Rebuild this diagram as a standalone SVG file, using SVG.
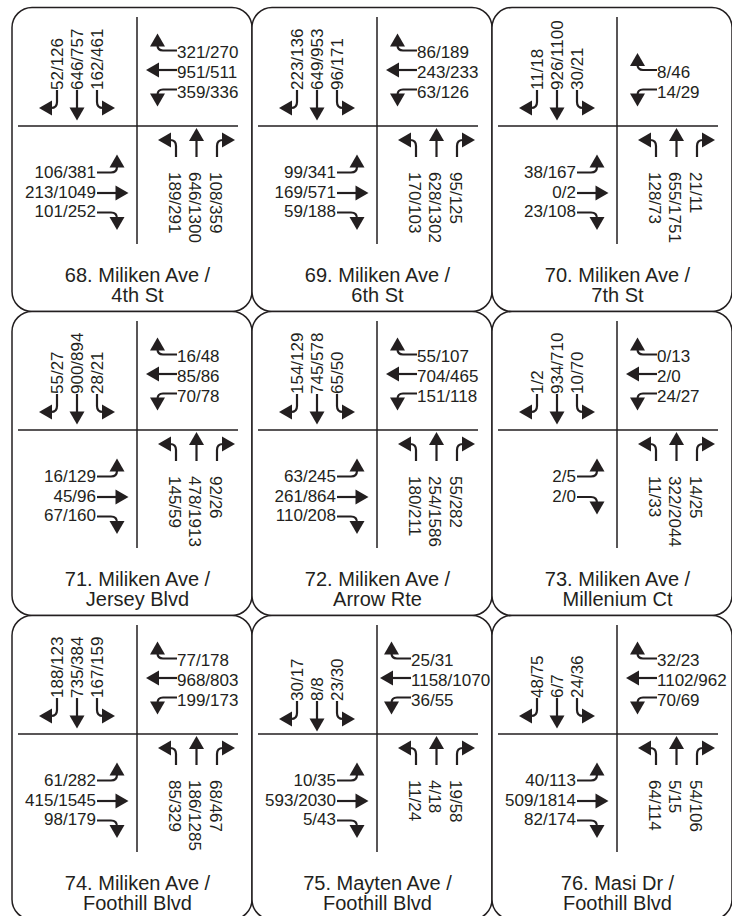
<svg xmlns="http://www.w3.org/2000/svg" width="732" height="916" viewBox="0 0 732 916">
<style>
.n{font-family:"Liberation Sans",Arial,sans-serif;font-size:17px;fill:#231f20}
.e{text-anchor:end}
.t{font-family:"Liberation Sans",Arial,sans-serif;font-size:20px;fill:#231f20;text-anchor:middle}
.box{fill:#fff;stroke:#231f20;stroke-width:1.5}
.ln{fill:none;stroke:#231f20;stroke-width:1.5}
</style>
<defs>
<g id="sbR"><path d="M0,0V12Q0,18 -6,18" fill="none" stroke="#231f20" stroke-width="2.2"/><polygon points="-5,10.5 -5,25.5 -18,18" fill="#231f20"/></g>
<g id="sbS"><path d="M0,0V19" fill="none" stroke="#231f20" stroke-width="2.2"/><polygon points="-7.5,17.5 7.5,17.5 0,30.5" fill="#231f20"/></g>
<g id="sbL"><path d="M0,0V12Q0,18 6,18" fill="none" stroke="#231f20" stroke-width="2.2"/><polygon points="5,10.5 5,25.5 18,18" fill="#231f20"/></g>
<g id="wbU"><path d="M0,0H-14Q-19.5,0 -19.5,-5.5" fill="none" stroke="#231f20" stroke-width="2.2"/><polygon points="-27,-4 -12,-4 -19.5,-17" fill="#231f20"/></g>
<g id="wbS"><path d="M0,0H-19" fill="none" stroke="#231f20" stroke-width="2.2"/><polygon points="-18,-7.5 -18,7.5 -31,0" fill="#231f20"/></g>
<g id="wbD"><path d="M0,0H-14Q-19.5,0 -19.5,5.5" fill="none" stroke="#231f20" stroke-width="2.2"/><polygon points="-27,4 -12,4 -19.5,17" fill="#231f20"/></g>
<g id="ebU"><path d="M0,0H14Q20,0 20,-6" fill="none" stroke="#231f20" stroke-width="2.2"/><polygon points="12.5,-5 27.5,-5 20,-18" fill="#231f20"/></g>
<g id="ebS"><path d="M0,0H20" fill="none" stroke="#231f20" stroke-width="2.2"/><polygon points="18.5,-7.5 18.5,7.5 31.5,0" fill="#231f20"/></g>
<g id="ebD"><path d="M0,0H14Q20,0 20,6" fill="none" stroke="#231f20" stroke-width="2.2"/><polygon points="12.5,4.5 27.5,4.5 20,17.5" fill="#231f20"/></g>
<g id="nbL"><path d="M0,0V-11Q0,-17 -6,-17" fill="none" stroke="#231f20" stroke-width="2.2"/><polygon points="-5,-24.5 -5,-9.5 -18,-17" fill="#231f20"/></g>
<g id="nbS"><path d="M0,0V-17" fill="none" stroke="#231f20" stroke-width="2.2"/><polygon points="-7.5,-16 7.5,-16 0,-29" fill="#231f20"/></g>
<g id="nbR"><path d="M0,0V-11Q0,-17 6,-17" fill="none" stroke="#231f20" stroke-width="2.2"/><polygon points="5,-24.5 5,-9.5 18,-17" fill="#231f20"/></g>
<g id="frame"><rect class="box" width="240" height="304" rx="20"/><path class="ln" d="M125,9.5V236.5M6,118.5H226"/></g>
<g id="sb3"><use href="#sbR" x="45" y="82.5"/><use href="#sbS" x="65" y="82.5"/><use href="#sbL" x="85" y="82.5"/></g>
<g id="nb3"><use href="#nbL" x="164" y="149.5"/><use href="#nbS" x="184.5" y="149.5"/><use href="#nbR" x="205" y="149.5"/></g>
<g id="wb3"><use href="#wbU" x="165" y="43"/><use href="#wbS" x="165" y="62.5"/><use href="#wbD" x="165" y="82"/></g>
<g id="eb3"><use href="#ebU" x="85" y="165"/><use href="#ebS" x="85" y="185.5"/><use href="#ebD" x="85" y="205"/></g>
</defs>

<g id="int68" transform="translate(12,7.5)">
<use href="#frame"/><use href="#sb3"/><use href="#nb3"/><use href="#wb3"/><use href="#eb3"/>
<text class="n" transform="translate(51,82.5) rotate(-90)">52/126</text>
<text class="n" transform="translate(71,82.5) rotate(-90)">646/757</text>
<text class="n" transform="translate(91,82.5) rotate(-90)">162/461</text>
<text class="n" x="165" y="50.5">321/270</text>
<text class="n" x="165" y="70">951/511</text>
<text class="n" x="165" y="90.5">359/336</text>
<text class="n e" x="84" y="170">106/381</text>
<text class="n e" x="84" y="190">213/1049</text>
<text class="n e" x="84" y="209.5">101/252</text>
<text class="n" transform="translate(156.5,164.5) rotate(90)">189/291</text>
<text class="n" transform="translate(177,164.5) rotate(90)">646/1300</text>
<text class="n" transform="translate(197.5,164.5) rotate(90)">108/359</text>
<text class="t" x="125.5" y="274">68. Miliken Ave /</text>
<text class="t" x="125.5" y="294.5">4th St</text>
</g>

<g id="int69" transform="translate(252,7.5)">
<use href="#frame"/><use href="#sb3"/><use href="#nb3"/><use href="#wb3"/><use href="#eb3"/>
<text class="n" transform="translate(51,82.5) rotate(-90)">223/136</text>
<text class="n" transform="translate(71,82.5) rotate(-90)">649/953</text>
<text class="n" transform="translate(91,82.5) rotate(-90)">96/171</text>
<text class="n" x="165" y="50.5">86/189</text>
<text class="n" x="165" y="70">243/233</text>
<text class="n" x="165" y="90.5">63/126</text>
<text class="n e" x="84" y="170">99/341</text>
<text class="n e" x="84" y="190">169/571</text>
<text class="n e" x="84" y="209.5">59/188</text>
<text class="n" transform="translate(156.5,164.5) rotate(90)">170/103</text>
<text class="n" transform="translate(177,164.5) rotate(90)">628/1302</text>
<text class="n" transform="translate(197.5,164.5) rotate(90)">95/125</text>
<text class="t" x="125.5" y="274">69. Miliken Ave /</text>
<text class="t" x="125.5" y="294.5">6th St</text>
</g>

<g id="int70" transform="translate(492,7.5)">
<use href="#frame"/><use href="#sb3"/><use href="#nb3"/><use href="#eb3"/>
<use href="#wbU" x="165" y="62.5"/><use href="#wbD" x="165" y="82"/>
<text class="n" transform="translate(51,82.5) rotate(-90)">11/18</text>
<text class="n" transform="translate(71,82.5) rotate(-90)">926/1100</text>
<text class="n" transform="translate(91,82.5) rotate(-90)">30/21</text>
<text class="n" x="165" y="70">8/46</text>
<text class="n" x="165" y="90.5">14/29</text>
<text class="n e" x="84" y="170">38/167</text>
<text class="n e" x="84" y="190">0/2</text>
<text class="n e" x="84" y="209.5">23/108</text>
<text class="n" transform="translate(156.5,164.5) rotate(90)">128/73</text>
<text class="n" transform="translate(177,164.5) rotate(90)">655/1751</text>
<text class="n" transform="translate(197.5,164.5) rotate(90)">21/11</text>
<text class="t" x="125.5" y="274">70. Miliken Ave /</text>
<text class="t" x="125.5" y="294.5">7th St</text>
</g>

<g id="int71" transform="translate(12,311.5)">
<use href="#frame"/><use href="#sb3"/><use href="#nb3"/><use href="#wb3"/><use href="#eb3"/>
<text class="n" transform="translate(51,82.5) rotate(-90)">55/27</text>
<text class="n" transform="translate(71,82.5) rotate(-90)">900/894</text>
<text class="n" transform="translate(91,82.5) rotate(-90)">28/21</text>
<text class="n" x="165" y="50.5">16/48</text>
<text class="n" x="165" y="70">85/86</text>
<text class="n" x="165" y="90.5">70/78</text>
<text class="n e" x="84" y="170">16/129</text>
<text class="n e" x="84" y="190">45/96</text>
<text class="n e" x="84" y="209.5">67/160</text>
<text class="n" transform="translate(156.5,164.5) rotate(90)">145/59</text>
<text class="n" transform="translate(177,164.5) rotate(90)">478/1913</text>
<text class="n" transform="translate(197.5,164.5) rotate(90)">92/26</text>
<text class="t" x="125.5" y="274">71. Miliken Ave /</text>
<text class="t" x="125.5" y="294.5">Jersey Blvd</text>
</g>

<g id="int72" transform="translate(252,311.5)">
<use href="#frame"/><use href="#sb3"/><use href="#nb3"/><use href="#wb3"/><use href="#eb3"/>
<text class="n" transform="translate(51,82.5) rotate(-90)">154/129</text>
<text class="n" transform="translate(71,82.5) rotate(-90)">745/578</text>
<text class="n" transform="translate(91,82.5) rotate(-90)">65/50</text>
<text class="n" x="165" y="50.5">55/107</text>
<text class="n" x="165" y="70">704/465</text>
<text class="n" x="165" y="90.5">151/118</text>
<text class="n e" x="84" y="170">63/245</text>
<text class="n e" x="84" y="190">261/864</text>
<text class="n e" x="84" y="209.5">110/208</text>
<text class="n" transform="translate(156.5,164.5) rotate(90)">180/211</text>
<text class="n" transform="translate(177,164.5) rotate(90)">254/1586</text>
<text class="n" transform="translate(197.5,164.5) rotate(90)">55/282</text>
<text class="t" x="125.5" y="274">72. Miliken Ave /</text>
<text class="t" x="125.5" y="294.5">Arrow Rte</text>
</g>

<g id="int73" transform="translate(492,311.5)">
<use href="#frame"/><use href="#sb3"/><use href="#nb3"/><use href="#wb3"/>
<use href="#ebU" x="85" y="165"/><use href="#ebD" x="85" y="185.5"/>
<text class="n" transform="translate(51,82.5) rotate(-90)">1/2</text>
<text class="n" transform="translate(71,82.5) rotate(-90)">934/710</text>
<text class="n" transform="translate(91,82.5) rotate(-90)">10/70</text>
<text class="n" x="165" y="50.5">0/13</text>
<text class="n" x="165" y="70">2/0</text>
<text class="n" x="165" y="90.5">24/27</text>
<text class="n e" x="84" y="170">2/5</text>
<text class="n e" x="84" y="190">2/0</text>
<text class="n" transform="translate(156.5,164.5) rotate(90)">11/33</text>
<text class="n" transform="translate(177,164.5) rotate(90)">322/2044</text>
<text class="n" transform="translate(197.5,164.5) rotate(90)">14/25</text>
<text class="t" x="125.5" y="274">73. Miliken Ave /</text>
<text class="t" x="125.5" y="294.5">Millenium Ct</text>
</g>

<g id="int74" transform="translate(12,615.5)">
<use href="#frame"/><use href="#sb3"/><use href="#nb3"/><use href="#wb3"/><use href="#eb3"/>
<text class="n" transform="translate(51,82.5) rotate(-90)">188/123</text>
<text class="n" transform="translate(71,82.5) rotate(-90)">735/384</text>
<text class="n" transform="translate(91,82.5) rotate(-90)">167/159</text>
<text class="n" x="165" y="50.5">77/178</text>
<text class="n" x="165" y="70">968/803</text>
<text class="n" x="165" y="90.5">199/173</text>
<text class="n e" x="84" y="170">61/282</text>
<text class="n e" x="84" y="190">415/1545</text>
<text class="n e" x="84" y="209.5">98/179</text>
<text class="n" transform="translate(156.5,164.5) rotate(90)">85/329</text>
<text class="n" transform="translate(177,164.5) rotate(90)">186/1285</text>
<text class="n" transform="translate(197.5,164.5) rotate(90)">68/467</text>
<text class="t" x="125.5" y="274">74. Miliken Ave /</text>
<text class="t" x="125.5" y="294.5">Foothill Blvd</text>
</g>

<g id="int75" transform="translate(252,615.5)">
<use href="#frame"/><use href="#sb3" y="3"/><use href="#nb3"/><use href="#wb3" x="-6"/><use href="#eb3"/>
<text class="n" transform="translate(51,85.5) rotate(-90)">30/17</text>
<text class="n" transform="translate(71,85.5) rotate(-90)">8/8</text>
<text class="n" transform="translate(91,85.5) rotate(-90)">23/30</text>
<text class="n" x="159" y="50.5">25/31</text>
<text class="n" x="159" y="70">1158/1070</text>
<text class="n" x="159" y="90.5">36/55</text>
<text class="n e" x="84" y="170">10/35</text>
<text class="n e" x="84" y="190">593/2030</text>
<text class="n e" x="84" y="209.5">5/43</text>
<text class="n" transform="translate(156.5,164.5) rotate(90)">11/24</text>
<text class="n" transform="translate(177,164.5) rotate(90)">4/18</text>
<text class="n" transform="translate(197.5,164.5) rotate(90)">19/58</text>
<text class="t" x="125.5" y="274">75. Mayten Ave /</text>
<text class="t" x="125.5" y="294.5">Foothill Blvd</text>
</g>

<g id="int76" transform="translate(492,615.5)">
<use href="#frame"/><use href="#sb3"/><use href="#nb3"/><use href="#wb3"/><use href="#eb3"/>
<text class="n" transform="translate(51,82.5) rotate(-90)">48/75</text>
<text class="n" transform="translate(71,82.5) rotate(-90)">6/7</text>
<text class="n" transform="translate(91,82.5) rotate(-90)">24/36</text>
<text class="n" x="165" y="50.5">32/23</text>
<text class="n" x="165" y="70">1102/962</text>
<text class="n" x="165" y="90.5">70/69</text>
<text class="n e" x="84" y="170">40/113</text>
<text class="n e" x="84" y="190">509/1814</text>
<text class="n e" x="84" y="209.5">82/174</text>
<text class="n" transform="translate(156.5,164.5) rotate(90)">64/114</text>
<text class="n" transform="translate(177,164.5) rotate(90)">5/15</text>
<text class="n" transform="translate(197.5,164.5) rotate(90)">54/106</text>
<text class="t" x="125.5" y="274">76. Masi Dr /</text>
<text class="t" x="125.5" y="294.5">Foothill Blvd</text>
</g>
</svg>
